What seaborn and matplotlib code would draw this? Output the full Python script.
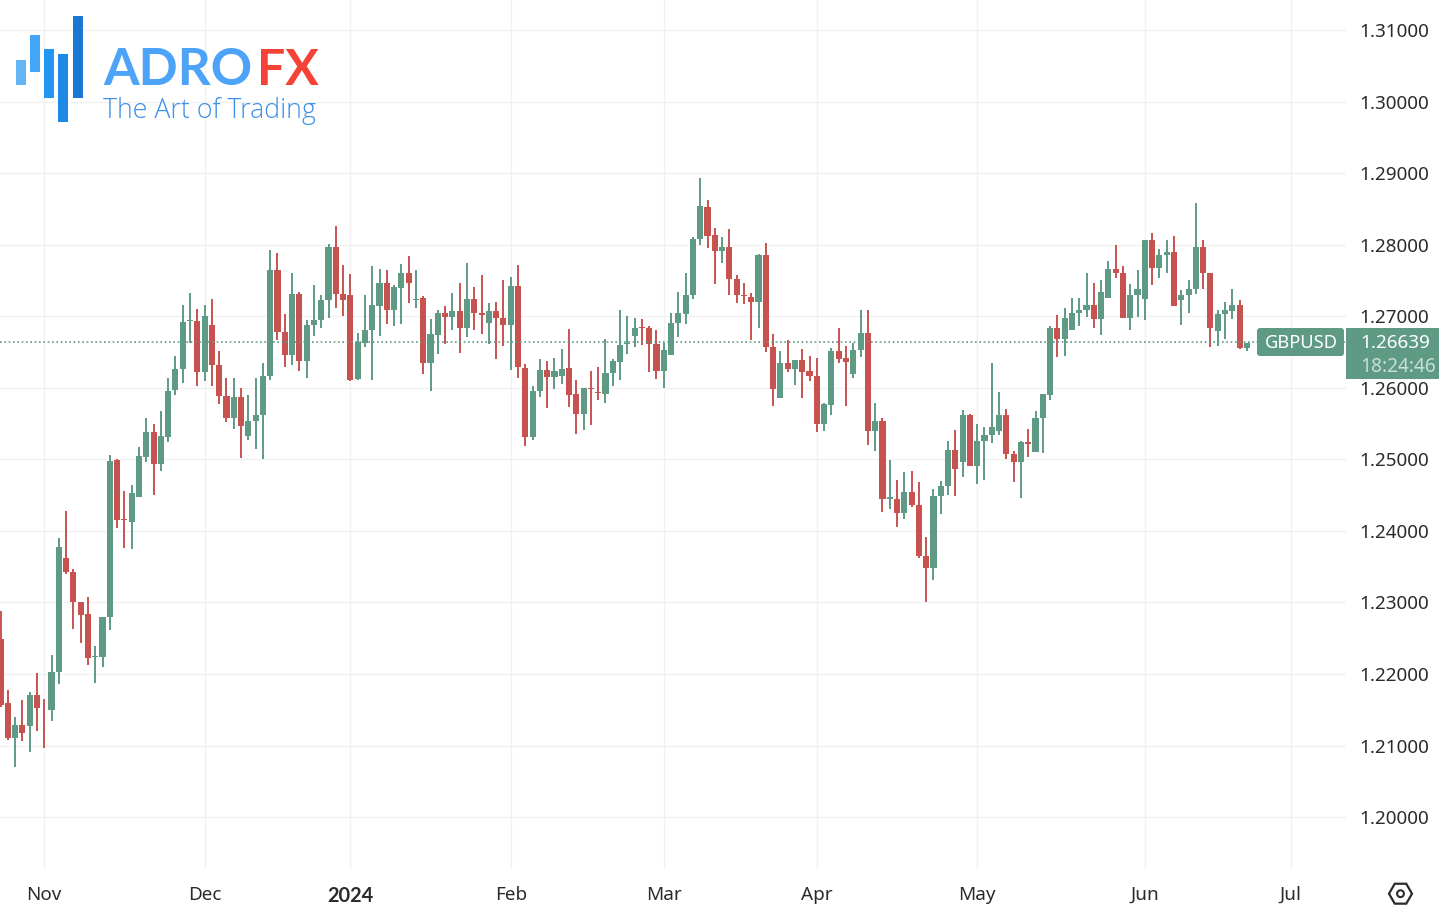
import numpy as np
import pandas as pd
import seaborn as sns
import matplotlib
matplotlib.use('Agg')
import matplotlib.pyplot as plt
from matplotlib.patches import Rectangle, FancyBboxPatch, RegularPolygon, Circle

# GBPUSD daily candles, prices in 1/10000
opens = [12249, 12159, 12110, 12128, 12127, 12170, 12153, 12150, 12203, 12362,
         12343, 12300, 12284, 12223, 12224, 12279, 12499, 12417, 12413, 12447,
         12503, 12538, 12493, 12531, 12597, 12626, 12693, 12693, 12622, 12688,
         12632, 12589, 12558, 12587, 12532, 12554, 12562, 12616, 12765, 12678,
         12646, 12731, 12637, 12688, 12694, 12722, 12797, 12731, 12729, 12612,
         12663, 12680, 12714, 12746, 12708, 12740, 12760, 12722, 12725, 12634,
         12674, 12704, 12699, 12707, 12683, 12724, 12705, 12690, 12707, 12697,
         12687, 12742, 12628, 12531, 12596, 12625, 12615, 12616, 12627, 12591,
         12563, 12600, 12594, 12591, 12620, 12636, 12661, 12672, 12685, 12684,
         12661, 12623, 12646, 12690, 12703, 12729, 12808, 12853, 12813, 12791,
         12796, 12752, 12730, 12727, 12720, 12785, 12657, 12585, 12635, 12626,
         12639, 12623, 12617, 12549, 12576, 12652, 12641, 12619, 12653, 12677,
         12539, 12553, 12445, 12445, 12425, 12454, 12436, 12365, 12348, 12448,
         12463, 12513, 12496, 12562, 12490, 12525, 12534, 12539, 12562, 12508,
         12496, 12524, 12510, 12558, 12590, 12684, 12668, 12680, 12704, 12708,
         12716, 12696, 12726, 12766, 12760, 12698, 12730, 12724, 12806, 12768,
         12785, 12790, 12722, 12729, 12738, 12797, 12761, 12679, 12703, 12707,
         12716, 12656]
closes = [12157, 12110, 12128, 12117, 12170, 12152, 12152, 12203, 12377, 12342,
          12300, 12283, 12222, 12225, 12280, 12498, 12415, 12415, 12453, 12504,
          12538, 12493, 12532, 12595, 12626, 12692, 12695, 12622, 12700, 12632,
          12589, 12558, 12587, 12546, 12554, 12562, 12617, 12765, 12678, 12646,
          12731, 12637, 12688, 12695, 12723, 12797, 12731, 12722, 12611, 12664,
          12681, 12715, 12746, 12708, 12741, 12760, 12746, 12724, 12634, 12675,
          12704, 12699, 12707, 12683, 12724, 12704, 12701, 12707, 12697, 12687,
          12742, 12629, 12531, 12596, 12625, 12615, 12624, 12626, 12590, 12563,
          12599, 12598, 12593, 12621, 12637, 12660, 12663, 12684, 12684, 12661,
          12623, 12653, 12691, 12704, 12730, 12808, 12854, 12812, 12791, 12796,
          12752, 12730, 12728, 12720, 12785, 12657, 12598, 12635, 12626, 12639,
          12622, 12616, 12549, 12577, 12652, 12640, 12636, 12653, 12677, 12539,
          12553, 12444, 12447, 12425, 12454, 12436, 12365, 12348, 12448, 12463,
          12513, 12487, 12562, 12490, 12526, 12534, 12545, 12562, 12508, 12496,
          12524, 12521, 12558, 12591, 12684, 12668, 12698, 12704, 12709, 12715,
          12696, 12734, 12766, 12760, 12698, 12730, 12738, 12806, 12768, 12785,
          12790, 12714, 12729, 12738, 12797, 12760, 12683, 12703, 12708, 12716,
          12656, 12663]
highs = [12288, 12177, 12140, 12163, 12175, 12201, 12165, 12226, 12390, 12428,
         12347, 12301, 12308, 12239, 12280, 12506, 12500, 12455, 12464, 12517,
         12558, 12549, 12568, 12614, 12644, 12715, 12732, 12710, 12716, 12724,
         12651, 12613, 12613, 12600, 12590, 12614, 12634, 12792, 12788, 12703,
         12760, 12734, 12694, 12743, 12730, 12801, 12826, 12772, 12759, 12676,
         12729, 12770, 12766, 12764, 12744, 12773, 12784, 12764, 12728, 12696,
         12708, 12714, 12732, 12746, 12774, 12741, 12758, 12718, 12720, 12750,
         12755, 12772, 12633, 12603, 12640, 12638, 12642, 12654, 12682, 12611,
         12600, 12624, 12629, 12668, 12640, 12709, 12700, 12698, 12696, 12686,
         12681, 12662, 12705, 12734, 12761, 12810, 12893, 12862, 12823, 12810,
         12822, 12758, 12746, 12732, 12787, 12802, 12675, 12652, 12667, 12639,
         12654, 12645, 12641, 12578, 12655, 12683, 12659, 12663, 12709, 12708,
         12578, 12558, 12499, 12471, 12482, 12484, 12468, 12392, 12458, 12470,
         12525, 12541, 12569, 12563, 12549, 12545, 12634, 12594, 12570, 12511,
         12526, 12542, 12568, 12591, 12686, 12701, 12711, 12725, 12726, 12760,
         12746, 12750, 12777, 12799, 12770, 12745, 12765, 12807, 12816, 12794,
         12807, 12812, 12736, 12750, 12858, 12806, 12761, 12709, 12720, 12738,
         12722, 12663]
lows = [12154, 12107, 12070, 12106, 12091, 12120, 12097, 12134, 12186, 12340,
        12263, 12243, 12213, 12187, 12210, 12262, 12404, 12376, 12374, 12447,
        12496, 12450, 12484, 12524, 12590, 12607, 12663, 12603, 12610, 12603,
        12577, 12552, 12543, 12502, 12527, 12514, 12501, 12611, 12667, 12629,
        12632, 12624, 12613, 12673, 12684, 12697, 12711, 12700, 12610, 12611,
        12657, 12611, 12673, 12689, 12686, 12689, 12719, 12712, 12619, 12596,
        12647, 12661, 12680, 12648, 12671, 12681, 12675, 12661, 12640, 12658,
        12625, 12613, 12518, 12527, 12587, 12571, 12598, 12605, 12573, 12536,
        12541, 12548, 12583, 12578, 12602, 12611, 12647, 12657, 12660, 12622,
        12612, 12599, 12646, 12671, 12689, 12724, 12799, 12795, 12745, 12774,
        12730, 12719, 12717, 12667, 12683, 12650, 12575, 12585, 12622, 12604,
        12585, 12609, 12538, 12539, 12562, 12634, 12574, 12613, 12643, 12520,
        12511, 12427, 12431, 12405, 12417, 12433, 12362, 12300, 12332, 12423,
        12450, 12448, 12475, 12490, 12466, 12471, 12523, 12534, 12501, 12468,
        12446, 12503, 12510, 12509, 12583, 12643, 12645, 12680, 12686, 12699,
        12684, 12674, 12726, 12753, 12698, 12680, 12699, 12695, 12743, 12754,
        12761, 12714, 12687, 12705, 12731, 12738, 12657, 12659, 12668, 12696,
        12654, 12651]

month_bars = [6, 28, 48, 70, 91, 112, 134, 157, 177]
month_labels = ['Nov', 'Dec', '2024', 'Feb', 'Mar', 'Apr', 'May', 'Jun', 'Jul']
price_levels = [1.20, 1.21, 1.22, 1.23, 1.24, 1.25, 1.26, 1.27, 1.28, 1.29, 1.30, 1.31]
last_price = 1.26639

GREEN = '#5f9a85'
RED = '#c75351'
GRID = '#f1f1f1'
INK = '#2b2b2b'

df = pd.DataFrame({'open': opens, 'high': highs, 'low': lows, 'close': closes}) / 10000
df['bar'] = np.arange(len(df))
df['up'] = df['close'] >= df['open']
df['bottom'] = df[['open', 'close']].min(axis=1)
df['body'] = (df['close'] - df['open']).abs()

sns.set_theme(style='white')
plt.rcParams['font.family'] = ['Noto Sans', 'DejaVu Sans']

fig = plt.figure(figsize=(14.44, 9.10), dpi=100, facecolor='white')
ax = fig.add_axes([0, 1 - 869 / 910, 1346 / 1444, 869 / 910])

# Candles
for is_up, color in [(True, GREEN), (False, RED)]:
    part = df[df['up'] == is_up]
    ax.vlines(part['bar'], part['low'], part['high'], color=color, lw=1.4, zorder=2)
    sns.barplot(data=part, x='bar', y='body', bottom=part['bottom'].values, native_scale=True,
                width=0.84, color=color, saturation=1, errorbar=None, linewidth=0, ax=ax, zorder=3)

ax.axhline(last_price, color=GREEN, lw=1.2, ls=(0, (1, 1.6)), zorder=5)

ax.set_xlim(-0.07, 184.6)
ax.set_ylim(1.19274, 1.31419)
ax.set_xlabel('')
ax.set_ylabel('')
ax.set_axisbelow(True)
ax.grid(True, color=GRID, lw=1)
sns.despine(ax=ax, left=True, bottom=True, right=True, top=True)

ax.yaxis.tick_right()
ax.set_yticks(price_levels)
ax.set_yticklabels([f'{p:.5f}' for p in price_levels], fontsize=13.6, color=INK)
ax.set_xticks(month_bars)
ax.set_xticklabels(month_labels, fontsize=13.6, color=INK)
ax.tick_params(axis='both', length=0)
ax.tick_params(axis='y', pad=9.5)
ax.tick_params(axis='x', pad=12)
year_label = ax.get_xticklabels()[2]
year_label.set_family('Lato')
year_label.set_fontweight('bold')
year_label.set_fontsize(14.4)

# Overlay in pixels for the logo, price tag and settings icon
ov = fig.add_axes([0, 0, 1, 1], facecolor='none')
ov.set_xlim(0, 1444)
ov.set_ylim(910, 0)
ov.axis('off')

logo_bars = [(16, 60, 25, '#64b5f6'), (30, 35, 37, '#42a5f5'), (44, 49, 49, '#2196f3'),
             (58, 54, 68, '#1e88e5'), (73, 16, 82, '#1976d2')]
for bx, by, bh, bc in logo_bars:
    ov.add_patch(Rectangle((bx, by), 9.5, bh, color=bc, lw=0))
ov.text(103, 85, 'ADRO', fontsize=37, fontweight='bold', color='#4da3f8', family='Lato', va='baseline')
ov.text(257, 85, 'FX', fontsize=36, fontweight='bold', color='#f44336', family='Lato', va='baseline')
ov.text(103, 118, 'The Art of Trading', fontsize=19.3, fontweight='light', color='#3d90e8', family='Open Sans', va='baseline')

ov.add_patch(FancyBboxPatch((1260, 331), 81, 22, boxstyle='round,pad=3', color=GREEN, lw=0))
ov.add_patch(Rectangle((1346, 328), 93, 51, color=GREEN, lw=0))
ov.text(1301, 343, 'GBPUSD', color='white', fontsize=13.2, ha='center', va='center')
ov.text(1395, 343, f'{last_price:.5f}', color='white', fontsize=13.6, ha='center', va='center')
ov.text(1398.5, 366.5, '18:24:46', color='#c9ded6', fontsize=13.8, ha='center', va='center')

ov.add_patch(RegularPolygon((1400.5, 893.7), 6, radius=11.5, orientation=np.pi / 6, fill=False, ec=INK, lw=1.6))
ov.add_patch(Circle((1400.5, 893.7), 3.4, fill=False, ec=INK, lw=1.5))

fig.savefig('out.png', dpi=100)
